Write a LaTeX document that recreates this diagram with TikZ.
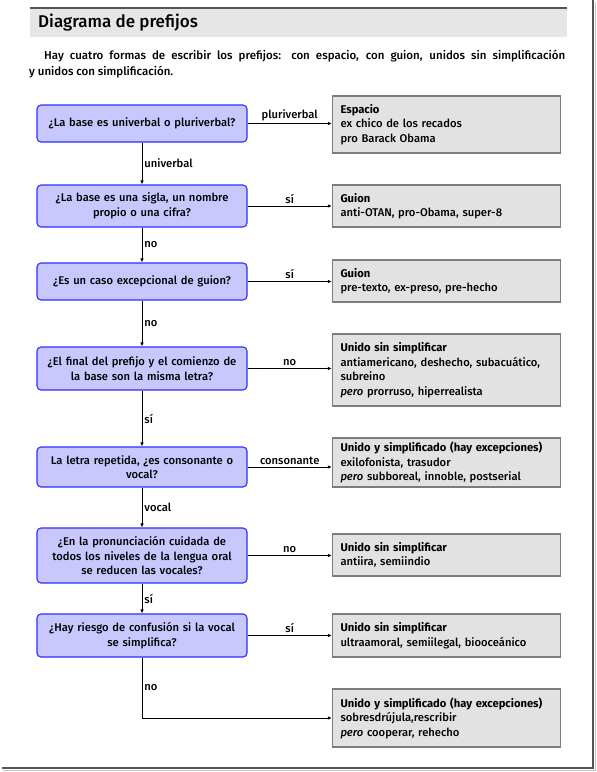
\documentclass[tikz,border=0pt]{standalone}
\usepackage{fontspec}
\setmainfont{Fira Sans}[UprightFont=* Medium, BoldFont=* Bold, ItalicFont=* Medium Italic, BoldItalicFont=* Bold Italic]
\usetikzlibrary{arrows.meta,calc}
\definecolor{qfill}{RGB}{200,200,255}
\definecolor{qdraw}{RGB}{45,45,255}
\definecolor{afill}{RGB}{226,226,226}
\definecolor{adraw}{RGB}{125,125,125}
\definecolor{barfill}{RGB}{230,230,230}
\definecolor{barline}{RGB}{85,85,85}
\begin{document}
\begin{tikzpicture}[x=1pt,y=-1pt,
  txt/.style={font=\fontsize{11.2}{14.5}\selectfont},
  q/.style={txt, draw=qdraw, fill=qfill, line width=1.1pt, rounded corners=4pt,
    minimum width=210pt, text width=208pt, inner xsep=1pt, inner ysep=0pt, align=center},
  ans/.style={txt, draw=adraw, fill=afill, line width=1.2pt,
    minimum width=223pt, text width=212pt, inner xsep=8pt, inner ysep=0pt, align=left},
  arr/.style={-{Latex[length=4pt,width=3.5pt]}, line width=0.9pt},
  lab/.style={txt, inner sep=2pt}]
\useasboundingbox (0,0) rectangle (597,772);
% page edges
\draw[line width=1.5pt, gray!45] (3,770.5) -- (595.5,770.5) -- (595.5,2);
\draw[line width=1.6pt, barline] (2,768) -- (593,768) -- (593,0);
% title bar
\fill[barfill] (30,8) rectangle (567,37);
\draw[line width=2pt, barline] (30,8) -- (567,8);
\node[anchor=west, inner sep=0pt, font=\fontsize{17}{20}\selectfont] (title) at (38,23) {Diagrama de prefijos};
\node[anchor=north west, inner sep=0pt, text width=536pt, align=justify, font=\fontsize{11.5}{16}\selectfont] (intro) at (29,50)
  {\hspace*{15pt}Hay cuatro formas de escribir los prefijos: con espacio, con guion, unidos sin simplificación\linebreak y unidos con simplificación.};
% questions
\node[q, minimum height=37pt] (q1) at (142,123.5) {¿La base es univerbal o pluriverbal?};
\node[q, minimum height=42pt] (q2) at (142,206) {¿La base es una sigla, un nombre\\ propio o una cifra?};
\node[q, minimum height=37pt] (q3) at (142,281.5) {¿Es un caso excepcional de guion?};
\node[q, minimum height=43pt] (q4) at (142,368.5) {¿El final del prefijo y el comienzo de\\ la base son la misma letra?};
\node[q, minimum height=40pt] (q5) at (142,467) {La letra repetida, ¿es consonante o\\ vocal?};
\node[q, minimum height=55pt] (q6) at (142,555.5) {¿En la pronunciación cuidada de\\ todos los niveles de la lengua oral\\ se reducen las vocales?};
\node[q, minimum height=43pt] (q7) at (142,635.5) {¿Hay riesgo de confusión si la vocal\\ se simplifica?};
% answers
\node[ans, minimum height=57pt] (a1) at (446.5,124.5) {\textbf{Espacio}\\ ex chico de los recados\\ pro Barack Obama};
\node[ans, minimum height=42pt] (a2) at (446.5,206) {\textbf{Guion}\\ anti-OTAN, pro-Obama, super-8};
\node[ans, minimum height=42pt] (a3) at (446.5,281) {\textbf{Guion}\\ pre-texto, ex-preso, pre-hecho};
\node[ans, minimum height=72pt] (a4) at (446.5,370) {\textbf{Unido sin simplificar}\\ antiamericano, deshecho, subacuático,\\ subreino\\ \textit{pero} prorruso, hiperrealista};
\node[ans, minimum height=49pt] (a5) at (446.5,462.5) {\textbf{Unido y simplificado (hay excepciones)}\\ exilofonista, trasudor\\ \textit{pero} subboreal, innoble, postserial};
\node[ans, minimum height=42pt] (a6) at (446.5,555) {\textbf{Unido sin simplificar}\\ antiira, semiindio};
\node[ans, minimum height=43pt] (a7) at (446.5,635.5) {\textbf{Unido sin simplificar}\\ ultraamoral, semiilegal, biooceánico};
\node[ans, minimum height=58pt] (a8) at (446.5,718) {\textbf{Unido y simplificado (hay excepciones)}\\ sobresdrújula,rescribir\\ \textit{pero} cooperar, rehecho};
% horizontal connectors
\draw[arr] (q1.east) -- (q1.east -| a1.west) node[lab, midway, above] {pluriverbal};
\draw[arr] (q2.east) -- (q2.east -| a2.west) node[lab, midway, above] {sí};
\draw[arr] (q3.east) -- (q3.east -| a3.west) node[lab, midway, above] {sí};
\draw[arr] (q4.east) -- (q4.east -| a4.west) node[lab, midway, above] {no};
\draw[arr] (q5.east) -- (q5.east -| a5.west) node[lab, midway, above] {consonante};
\draw[arr] (q6.east) -- (q6.east -| a6.west) node[lab, midway, above] {no};
\draw[arr] (q7.east) -- (q7.east -| a7.west) node[lab, midway, above] {sí};
% vertical connectors
\draw[arr] (q1.south) -- (q2.north) node[lab, midway, right] {univerbal};
\draw[arr] (q2.south) -- (q3.north) node[lab, midway, right] {no};
\draw[arr] (q3.south) -- (q4.north) node[lab, midway, right] {no};
\draw[arr] (q4.south) -- (q5.north) node[lab, midway, right] {sí};
\draw[arr] (q5.south) -- (q6.north) node[lab, midway, right] {vocal};
\draw[arr] (q6.south) -- (q7.north) node[lab, midway, right] {sí};
\draw[arr] (q7.south) |- (a8.west) node[lab, pos=0.25, right] {no};
\end{tikzpicture}
\end{document}
